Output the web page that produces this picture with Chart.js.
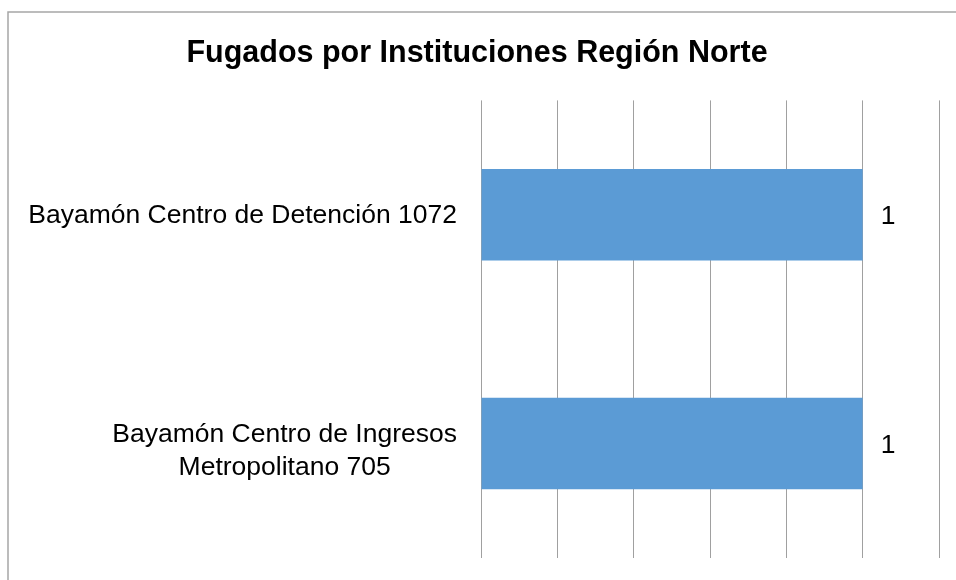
<!DOCTYPE html>
<html><head><meta charset="utf-8">
<script src="https://cdn.jsdelivr.net/npm/chart.js@4"></script>
<style>html,body{margin:0;padding:0;background:#fff}#wrap{width:956px;height:580px;position:relative}</style>
</head><body><div id="wrap"><canvas id="c" width="956" height="580"></canvas></div>
<script>
// ---- data ----
const chartTitle = 'Fugados por Instituciones Región Norte';
const categories = ['Bayamón Centro de Detención 1072', ['Bayamón Centro de Ingresos', 'Metropolitano 705']];
const fugados = [1, 1];
const axisMin = 0;
const axisMax = 1.2;
const axisStep = 0.2;

const FONT = '"Liberation Sans", Arial, sans-serif';

const framePlugin = {
  id: 'frame',
  beforeDraw(chart) {
    const ctx = chart.ctx;
    ctx.save();
    ctx.fillStyle = '#ffffff';
    ctx.fillRect(0, 0, chart.width, chart.height);
    ctx.strokeStyle = '#a6a6a6';
    ctx.lineWidth = 1.5;
    ctx.beginPath();
    ctx.moveTo(8, chart.height);
    ctx.lineTo(8, 12);
    ctx.lineTo(chart.width, 12);
    ctx.stroke();
    ctx.restore();
  }
};

const catLabelPlugin = {
  id: 'catLabels',
  afterDraw(chart) {
    const ctx = chart.ctx;
    const yScale = chart.scales.y;
    const right = chart.chartArea.left - 24;
    ctx.save();
    ctx.font = '26.5px ' + FONT;
    ctx.fillStyle = '#000000';
    ctx.textAlign = 'center';
    ctx.textBaseline = 'alphabetic';
    chart.data.labels.forEach((lab, i) => {
      const lines = Array.isArray(lab) ? lab : [lab];
      const n = lines.length;
      const maxW = Math.max(...lines.map(l => ctx.measureText(l).width));
      const cx = right - maxW / 2;
      const yc = yScale.getPixelForValue(i);
      lines.forEach((l, j) => {
        ctx.fillText(l, cx, yc + 8 + (j - (n - 1) / 2) * 33 + (n - 1) * 7);
      });
    });
    ctx.restore();
  }
};

const valueLabelPlugin = {
  id: 'valueLabels',
  afterDatasetsDraw(chart) {
    const ctx = chart.ctx;
    ctx.save();
    ctx.font = '26.5px ' + FONT;
    ctx.fillStyle = '#000000';
    ctx.textAlign = 'left';
    ctx.textBaseline = 'alphabetic';
    chart.data.datasets.forEach((ds, di) => {
      const meta = chart.getDatasetMeta(di);
      meta.data.forEach((bar, i) => {
        ctx.fillText(String(ds.data[i]), bar.x + 18, bar.y + 9.5);
      });
    });
    ctx.restore();
  }
};

new Chart(document.getElementById('c'), {
  type: 'bar',
  data: {
    labels: categories,
    datasets: [{
      label: 'Fugados',
      data: fugados,
      backgroundColor: '#5b9bd5',
      borderWidth: 0,
      barPercentage: 0.4,
      categoryPercentage: 1.0
    }]
  },
  options: {
    indexAxis: 'y',
    responsive: false,
    animation: false,
    layout: { padding: { left: 15, right: 17, top: 0, bottom: 22 } },
    scales: {
      x: {
        min: axisMin,
        max: axisMax,
        ticks: { display: false, stepSize: axisStep },
        grid: { color: '#a0a0a0', lineWidth: 1, drawTicks: false },
        border: { display: false },
        afterFit(scale) { scale.height = 0; }
      },
      y: {
        ticks: { display: false },
        grid: { display: false, drawTicks: false },
        border: { display: false },
        afterFit(scale) { scale.width = 466; }
      }
    },
    plugins: {
      legend: { display: false },
      tooltip: { enabled: false },
      title: {
        display: true,
        text: chartTitle,
        color: '#000000',
        font: { family: FONT, size: 30.5, weight: 'bold', lineHeight: 1.2 },
        padding: { top: 35.4, bottom: 28.4 }
      }
    }
  },
  plugins: [framePlugin, catLabelPlugin, valueLabelPlugin]
});
</script></body></html>
